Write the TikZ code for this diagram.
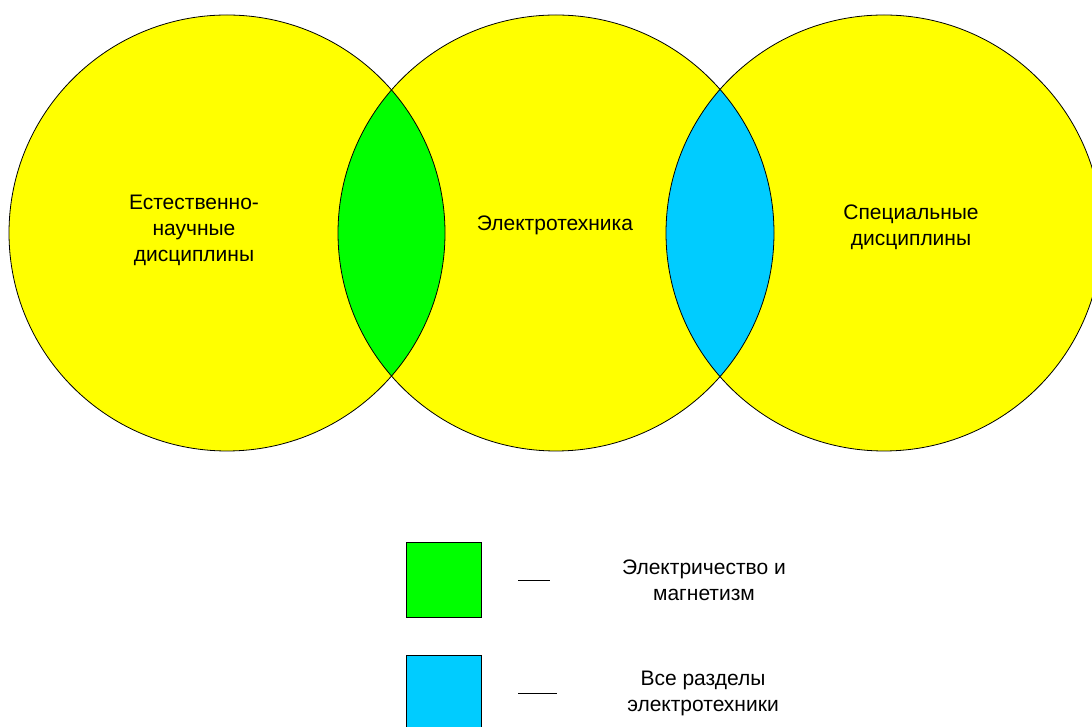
\documentclass[tikz,border=0pt]{standalone}
\usepackage{fontspec}
\setmainfont{Liberation Sans}
\usetikzlibrary{positioning}
\definecolor{kreisgelb}{HTML}{FFFF00}
\definecolor{feldgruen}{HTML}{00FF00}
\definecolor{feldblau}{HTML}{00CCFF}

\begin{document}
\begin{tikzpicture}[x=1pt,y=1pt,
  lbl/.style={align=center,font=\fontsize{21}{26}\selectfont},
  feld/.style={draw,line width=0.8pt,minimum size=75pt,inner sep=0pt}]
  \useasboundingbox (0,0) rectangle (1092,727);
  \foreach \name/\x in {links/227,mitte/556,rechts/884}{
    \coordinate (\name) at (\x,494);
    \fill[kreisgelb] (\name) circle[radius=218];
  }
  \begin{scope}
    \clip (links) circle[radius=218];
    \fill[feldgruen] (mitte) circle[radius=218];
  \end{scope}
  \begin{scope}
    \clip (rechts) circle[radius=218];
    \fill[feldblau] (mitte) circle[radius=218];
  \end{scope}
  \foreach \name in {links,mitte,rechts}
    \draw[line width=0.8pt] (\name) circle[radius=218];
  \node[lbl] (natur) at (194,497) {Естественно-\\научные\\дисциплины};
  \node[lbl] (etech) at (555,502) {Электротехника};
  \node[lbl] (spez) at (911,500) {Специальные\\дисциплины};
  \node[feld,fill=feldgruen] (gruen) at (443.5,147) {};
  \node[feld,fill=feldblau] (blau) at (443.5,34) {};
  \coordinate[right=37pt of gruen.east] (strichA);
  \coordinate[right=37pt of blau.east] (strichB);
  \draw[line width=0.8pt] (strichA) -- ++(32,0);
  \draw[line width=0.8pt] (strichB) -- ++(39,0);
  \node[lbl] (elmag) at (704,147) {Электричество и\\магнетизм};
  \node[lbl] (alle) at (703,34) {Все разделы\\электротехники};
\end{tikzpicture}
\end{document}
